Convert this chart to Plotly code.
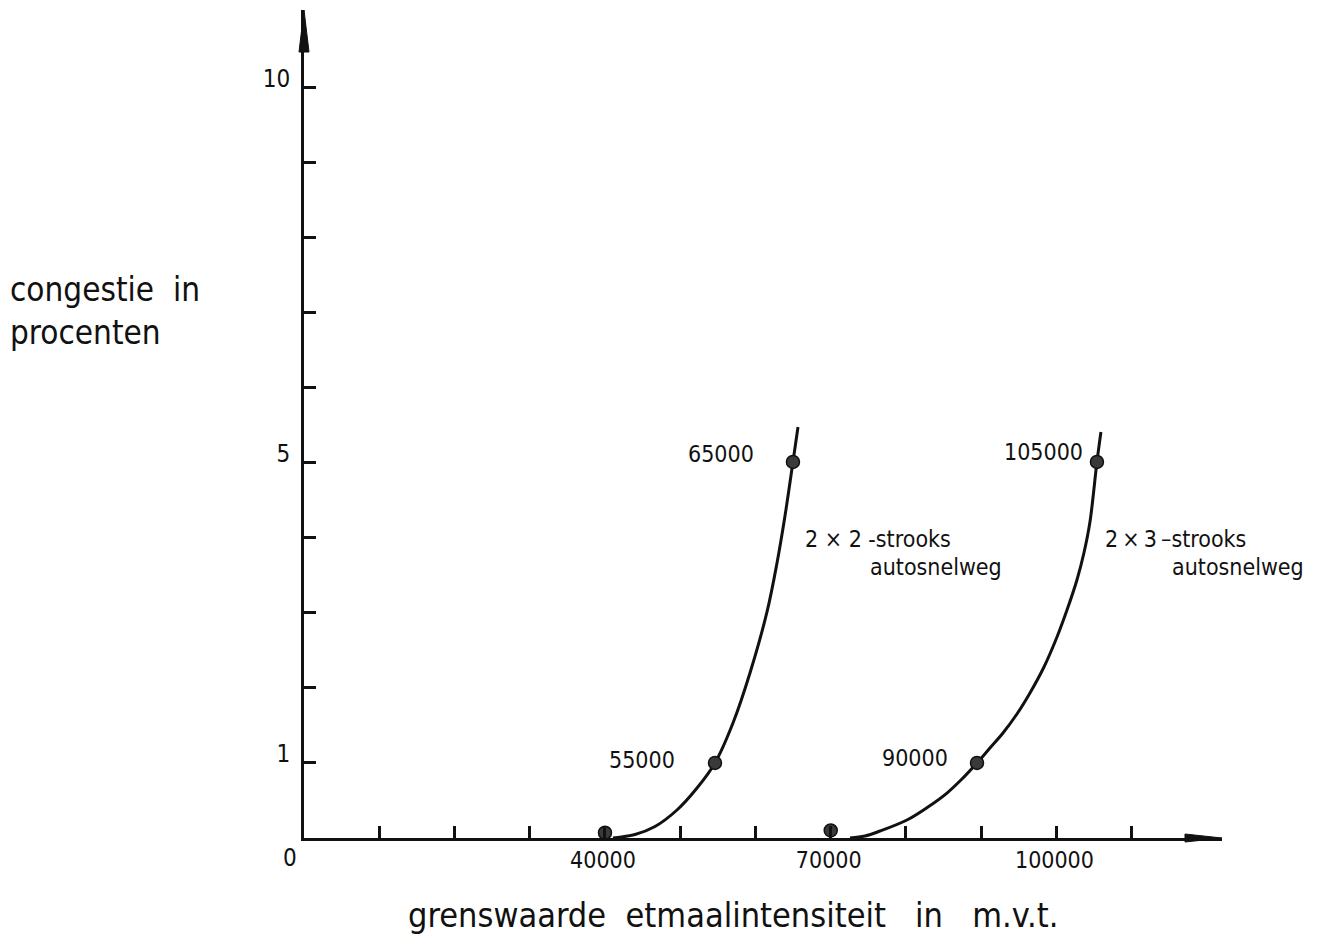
import plotly.graph_objects as go

# ---------------- data ----------------
# 2 x 2-strooks autosnelweg curve
curve_2x2_x = [41060, 43990, 46650, 49570, 52230, 54620, 57010, 59270, 61530, 62860, 63920, 64980, 65650]
curve_2x2_y = [0.0, 0.047, 0.153, 0.373, 0.666, 1.0, 1.532, 2.198, 3.011, 3.663, 4.289, 5.009, 5.475]

# 2 x 3-strooks autosnelweg curve
curve_2x3_x = [72560, 74550, 76550, 80130, 82920, 85450, 87440, 89440, 91160, 92890, 94750,
               96480, 98340, 100070, 101400, 102720, 103650, 104450, 105380, 105910]
curve_2x3_y = [0.0, 0.027, 0.093, 0.240, 0.413, 0.599, 0.786, 1.0, 1.199, 1.399, 1.652,
               1.932, 2.278, 2.678, 3.037, 3.437, 3.796, 4.209, 5.009, 5.408]

# marked points
dots_x = [40000, 54620, 64980, 70000, 89440, 105380]
dots_y = [0.07, 1.0, 5.009, 0.10, 1.0, 5.009]
dot_labels = ["", "55000", "65000", "", "90000", "105000"]

# axis ticks
x_tickvals = [10000, 20000, 30000, 40000, 50000, 60000, 70000, 80000, 90000, 100000, 110000]
x_ticktext = ["", "", "", "40000", "", "", "70000", "", "", "100000", ""]
y_tickvals = [1, 2, 3, 4, 5, 6, 7, 8, 9, 10]
y_ticktext = ["1", "", "", "", "5", "", "", "", "", "10"]

curve_names = ["2 × 2 -strooks", "2\u2009×\u20093\u2009–strooks"]
curve_sub = "autosnelweg"
NB = "\u00a0"
x_title = "grenswaarde" + NB * 2 + "etmaalintensiteit" + NB * 3 + "in" + NB * 3 + "m.v.t."
y_title = "congestie" + NB * 2 + "in<br>procenten"

X_MAX = 122000
Y_MAX = 11.03

# ---------------- layout geometry ----------------
# the page body adds an 8 px margin around the figure
OFF = 8
W, H = 1329 - OFF, 937 - OFF
ML, MR, MT, MB = 296, 107, 2, 99
PW = W - ML - MR
PH = H - MT - MB


def paper_x(px):
    return (px - OFF - ML) / PW


def paper_y(py):
    return (H - MB - (py - OFF)) / PH


FONT = "DejaVu Sans Condensed, DejaVu Sans, sans-serif"
INK = "#111111"

fig = go.Figure()

for cx, cy in [(curve_2x2_x, curve_2x2_y), (curve_2x3_x, curve_2x3_y)]:
    fig.add_trace(go.Scatter(
        x=cx, y=cy, mode="lines",
        line=dict(color=INK, width=3, shape="spline", smoothing=1.0),
        hoverinfo="skip", showlegend=False,
    ))

fig.add_trace(go.Scatter(
    x=dots_x, y=dots_y, mode="markers",
    marker=dict(size=13, color="#3a3a3a", line=dict(color=INK, width=1.5)),
    cliponaxis=False, showlegend=False,
))

annotations = []
# labels next to the marked points (pixel offsets)
label_offsets = {"55000": (-38, 3), "65000": (-37, 8), "90000": (-27, 5), "105000": (-12, 10)}
for x, y, t in zip(dots_x, dots_y, dot_labels):
    if not t:
        continue
    dx, dy = label_offsets[t]
    annotations.append(dict(
        x=x, y=y, xref="x", yref="y", text=t, showarrow=False,
        xanchor="right", yanchor="middle", xshift=dx, yshift=dy,
        font=dict(family=FONT, size=23, color=INK),
    ))

# curve descriptions
for name, left1, left2 in [(curve_names[0], 803, 868), (curve_names[1], 1103, 1170)]:
    annotations.append(dict(
        x=paper_x(left1), y=paper_y(539), xref="paper", yref="paper", text=name,
        showarrow=False, xanchor="left", yanchor="middle",
        font=dict(family=FONT, size=23, color=INK),
    ))
    annotations.append(dict(
        x=paper_x(left2), y=paper_y(567), xref="paper", yref="paper", text=curve_sub,
        showarrow=False, xanchor="left", yanchor="middle",
        font=dict(family=FONT, size=23, color=INK),
    ))

# origin label
annotations.append(dict(
    x=paper_x(290), y=paper_y(858), xref="paper", yref="paper", text="0",
    showarrow=False, xanchor="center", yanchor="middle",
    font=dict(family=FONT, size=24, color=INK),
))

# axis titles
annotations.append(dict(
    x=paper_x(8), y=paper_y(311), xref="paper", yref="paper", text=y_title,
    showarrow=False, xanchor="left", yanchor="middle", align="left",
    font=dict(family=FONT, size=33, color=INK),
))
annotations.append(dict(
    x=paper_x(406), y=paper_y(915), xref="paper", yref="paper", text=x_title,
    showarrow=False, xanchor="left", yanchor="middle",
    font=dict(family=FONT, size=34, color=INK),
))

# arrow heads at the axis ends
ya_len, ya_half = 42 / PH, 5 / PW
xa_len, xa_half = 37 / PW, 4 / PH
shapes = [
    dict(type="path", xref="paper", yref="paper",
         path=f"M {-ya_half} {1 - ya_len} L 0 1 L {ya_half} {1 - ya_len} Z",
         fillcolor=INK, line=dict(color=INK, width=1)),
    dict(type="path", xref="paper", yref="paper",
         path=f"M {1 - xa_len} {-xa_half} L 1 0 L {1 - xa_len} {xa_half} Z",
         fillcolor=INK, line=dict(color=INK, width=1)),
]

axis_common = dict(
    showgrid=False, zeroline=False, showline=True, linecolor=INK, linewidth=3,
    ticks="inside", ticklen=12, tickwidth=3, tickcolor=INK,
    fixedrange=True,
)

fig.update_layout(
    width=W, height=H,
    margin=dict(l=ML, r=MR, t=MT, b=MB, pad=0),
    paper_bgcolor="white", plot_bgcolor="white",
    xaxis=dict(range=[0, X_MAX], tickvals=x_tickvals, ticktext=x_ticktext,
               tickfont=dict(family=FONT, size=23, color=INK),
               ticklabelstandoff=-1, ticklabelshift=-2, **axis_common),
    yaxis=dict(range=[0, Y_MAX], tickvals=y_tickvals, ticktext=y_ticktext,
               tickfont=dict(family=FONT, size=24, color=INK),
               ticklabelstandoff=6, ticklabelshift=-9, **axis_common),
    annotations=annotations,
    shapes=shapes,
    showlegend=False,
)

fig.write_html("out.html")
